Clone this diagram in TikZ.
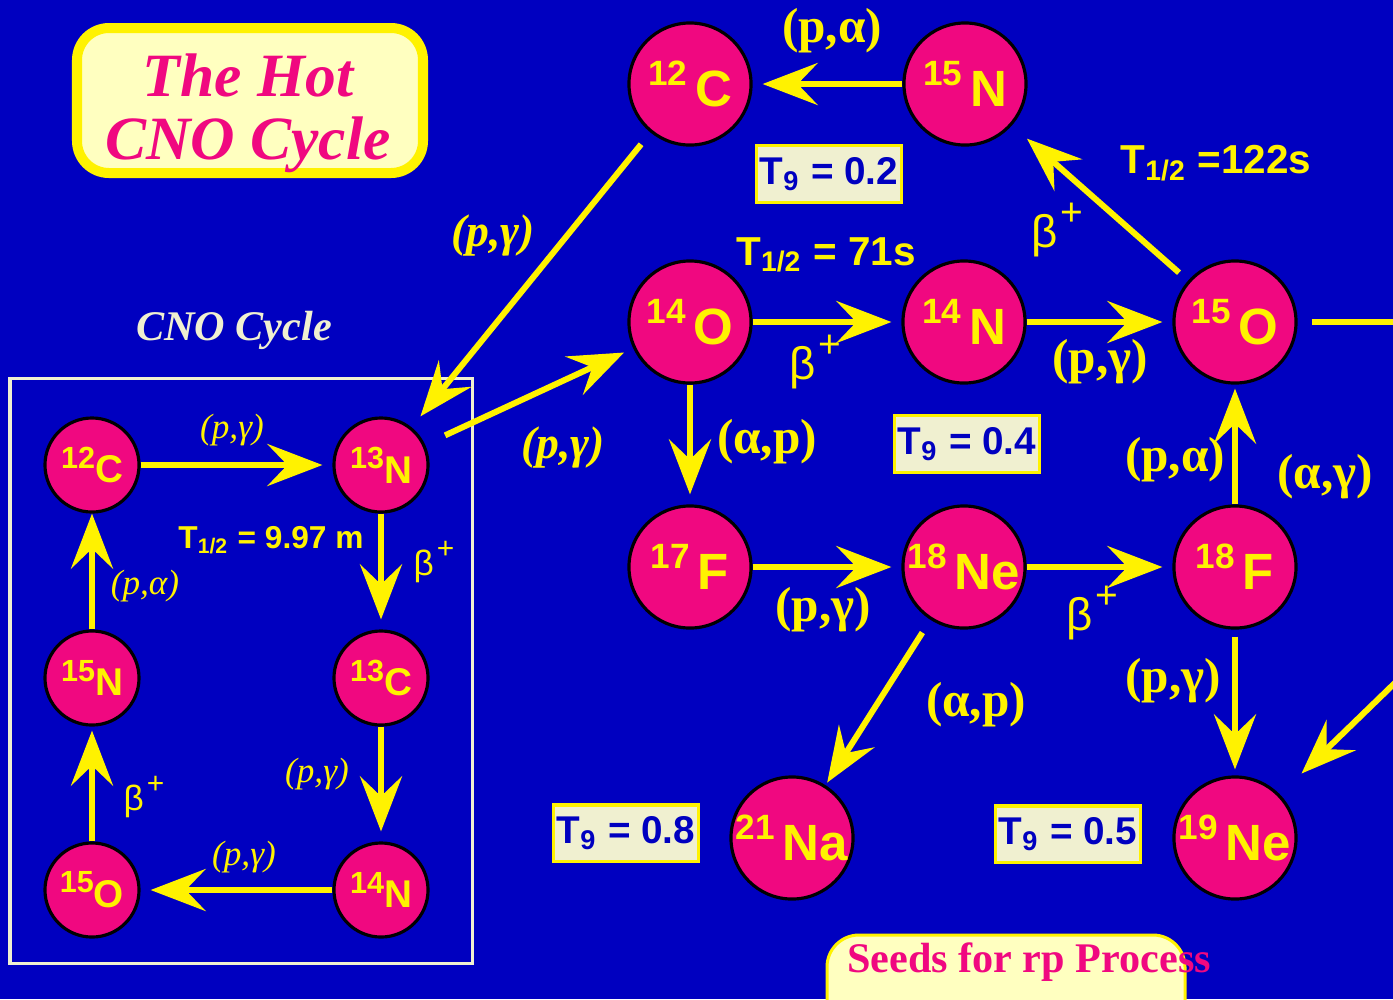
\documentclass[tikz,border=0pt]{standalone}
\usepackage{fontspec}
\setmainfont{Liberation Serif}
\setsansfont{Liberation Sans}
\usetikzlibrary{arrows.meta}

\definecolor{bgblue}{RGB}{0,0,192}
\definecolor{nucpink}{RGB}{240,8,128}
\definecolor{paleyellow}{RGB}{255,255,192}
\definecolor{cream}{RGB}{240,240,208}

\begin{document}
\begin{tikzpicture}[
            x=0.01cm, y=-0.01cm,
            bignuc/.style={
                circle,
                draw=black,
                line width=0.9pt,
                fill=nucpink,
                minimum size=1.22cm,
                inner sep=0pt,
                text=yellow,
                font=\sffamily\bfseries
            },
            smallnuc/.style={
                bignuc,
                minimum size=0.94cm
            },
            rx/.style={
                draw=yellow,
                line width=0.06cm,
                -{Stealth[length=0.55cm,width=0.42cm,inset=0.2cm]},
                shorten >=0.1cm
            },
            rxline/.style={
                draw=yellow,
                line width=0.06cm
            },
            rxlabel/.style={
                text=yellow,
                font=\bfseries\fontsize{14}{14}\selectfont
            },
            rxital/.style={
                text=yellow,
                font=\bfseries\itshape\fontsize{13}{13}\selectfont
            },
            rxsmall/.style={
                text=yellow,
                font=\itshape\fontsize{10}{10}\selectfont
            },
            decay/.style={
                text=yellow,
                font=\sffamily\fontsize{13}{13}\selectfont
            },
            decaysmall/.style={
                text=yellow,
                font=\sffamily\fontsize{10}{10}\selectfont
            },
            halflife/.style={
                text=yellow,
                font=\sffamily\bfseries\fontsize{11.5}{11.5}\selectfont
            },
            halfsmall/.style={
                text=yellow,
                font=\sffamily\bfseries\fontsize{9}{9}\selectfont
            },
            tempbox/.style={
                draw=yellow,
                line width=0.03cm,
                fill=cream,
                text=bgblue,
                minimum width=1.45cm,
                minimum height=0.56cm,
                inner sep=0pt,
                font=\sffamily\bfseries\fontsize{11}{11}\selectfont
            },
            cnoframe/.style={
                draw=cream,
                line width=0.03cm
            }
        ]

% Isotope labels: mass number raised before the symbol
            \def\bigiso#1#2{\raisebox{6pt}{\fontsize{10}{10}\selectfont #1}\hspace{0.08cm}{\fontsize{14.5}{14.5}\selectfont #2}}
            \def\smalliso#1#2{\raisebox{4.2pt}{\fontsize{8.7}{8.7}\selectfont #1}{\fontsize{11}{11}\selectfont #2}}
% beta plus with a large raised plus sign
            \def\bplus{β\hspace{0.03cm}\raisebox{0.5em}{\scalebox{0.85}{+}}}

% Background, picture size 1393 x 999
            \fill[bgblue] (0,0) rectangle (1393,999);
            \useasboundingbox (0,0) rectangle (1393,999);
            \clip (0,0) rectangle (1393,999);

% --- Title ---
            \draw[draw=yellow, line width=0.1cm, fill=paleyellow, rounded corners=0.32cm]
            (77,28) rectangle (423,173);
            \node[text=nucpink, align=center, font=\bfseries\itshape\fontsize{17.5}{18}\selectfont]
            (title) at (248,113) {The Hot\\CNO Cycle};

% --- Ordinary CNO cycle (left box) ---
            \node[text=cream, font=\bfseries\itshape\fontsize{12}{12}\selectfont] (cnotitle) at (234,330) {CNO Cycle};
            \draw[cnoframe] (10,378) rectangle (472,963);

            \foreach \name/\x/\y/\mass/\el in {sc12/92/465/12/C, sn13/381/465/13/N, sc13/381/678/13/C,
                sn14/381/890/14/N, so15/92/890/15/O, sn15/92/678/15/N} {
                \node[smallnuc] (\name) at (\x,\y) {\smalliso{\mass}{\el}};
            }

            \draw[rx] (sc12) -- (sn13);
            \draw[rx] (sn13) -- (sc13);
            \draw[rx] (sc13) -- (sn14);
            \draw[rx] (sn14) -- (so15);
            \draw[rx, shorten >=0.04cm] (so15) -- (sn15);
            \draw[rx, shorten >=0cm] (sn15) -- (sc12);

            \node[rxsmall] (sl1) at (232,430) {(p,γ)};
            \node[halfsmall] (sl2) at (271,540) {T\textsubscript{1/2} = 9.97 m};
            \node[decaysmall] (sl3) at (434,562) {\bplus};
            \node[rxsmall] (sl4) at (145,586) {(p,α)};
            \node[rxsmall] (sl5) at (317,774) {(p,γ)};
            \node[rxsmall] (sl6) at (244,857) {(p,γ)};
            \node[decaysmall] (sl7) at (144,797) {\bplus};

% --- Hot CNO cycle and breakout ---
            \foreach \name/\x/\y/\mass/\el in {c12/690/84/12/C, n15/965/84/15/N, o14/690/322/14/O,
                n14/964/322/14/N, o15/1235/322/15/O, f17/690/567/17/F, ne18/964/567/18/Ne,
                f18/1235/567/18/F, na21/792/838/21/Na, ne19/1235/838/19/Ne} {
                \node[bignuc] (\name) at (\x,\y) {\bigiso{\mass}{\el}};
            }

            \coordinate (exitR) at (1400,322);
            \coordinate (entryR) at (1400,678);

            \draw[rx] (n15) -- (c12);
            \draw[rx, shorten <=0.15cm, shorten >=0.14cm] (c12) -- (sn13);
            \draw[rx, shorten <=0.22cm] (sn13) -- (o14);
            \draw[rx] (o14) -- (n14);
            \draw[rx] (n14) -- (o15);
            \draw[rx, shorten <=0.12cm, shorten >=0.2cm] (o15) -- (n15);
            \draw[rxline, shorten <=0.14cm] (o15) -- (exitR);
            \draw[rx] (o14) -- (f17);
            \draw[rx] (f17) -- (ne18);
            \draw[rx] (ne18) -- (f18);
            \draw[rx, shorten >=0.04cm] (f18) -- (o15);
            \draw[rx, shorten <=0.15cm, shorten >=0.03cm] (ne18) -- (na21);
            \draw[rx, shorten <=0.07cm, shorten >=0.06cm] (f18) -- (ne19);
            \draw[rx, shorten >=0.3cm] (entryR) -- (ne19);

            \node[rxlabel] (l1) at (832,31) {(p,α)};
            \node[rxital] (l2) at (493,235) {(p,γ)};
            \node[rxital] (l3) at (563,447) {(p,γ)};
            \node[halflife] (l4) at (826,255) {T\textsubscript{1/2} = 71s};
            \node[decay] (l5) at (815,362) {\bplus};
            \node[rxlabel] (l6) at (1100,362) {(p,γ)};
            \node[decay] (l7) at (1057,230) {\bplus};
            \node[halflife] (l8) at (1216,163) {T\textsubscript{1/2} =122s};
            \node[rxlabel] (l9) at (767,442) {(α,p)};
            \node[rxlabel] (l10) at (823,610) {(p,γ)};
            \node[decay] (l11) at (1092,613) {\bplus};
            \node[rxlabel] (l12) at (1175,460) {(p,α)};
            \node[rxlabel] (l13) at (1325,477) {(α,γ)};
            \node[rxlabel] (l14) at (976,705) {(α,p)};
            \node[rxlabel] (l15) at (1173,681) {(p,γ)};

% Temperature boxes
            \foreach \name/\x/\y/\t in {tg02/829/174/0.2, tg04/967/444/0.4, tg08/626/833/0.8, tg05/1068/834/0.5} {
                \node[tempbox] (\name) at (\x,\y) {T\textsubscript{9} = \t};
            }

% --- Seeds label (runs off the page bottom) ---
            \draw[draw=yellow, line width=0.03cm, fill=paleyellow, rounded corners=0.32cm]
            (827,935) rectangle (1185,1060);
            \node[text=nucpink, font=\bfseries\fontsize{12}{12}\selectfont] (seeds) at (1029,962) {Seeds for rp Process};

        \end{tikzpicture}
\end{document}
